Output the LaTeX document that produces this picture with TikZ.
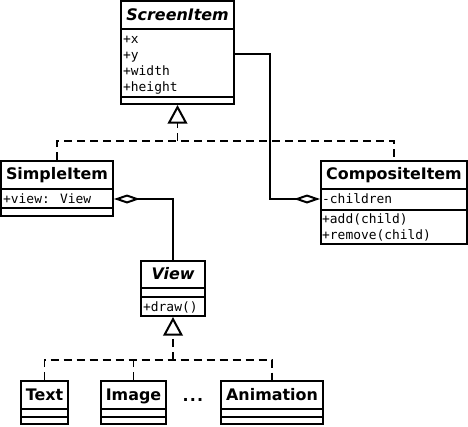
\documentclass[tikz,border=0pt]{standalone}
\usepackage{fontspec}
\setmainfont{DejaVu Sans}[BoldFont=DejaVu Sans Bold, ItalicFont=DejaVu Sans Oblique, BoldItalicFont=DejaVu Sans Bold Oblique]
\newfontfamily\umlmono{DejaVu Sans Mono}
\usetikzlibrary{arrows.meta}
\tikzset{
  umlbox/.style={draw, line width=2pt, inner sep=0pt, rectangle},
  divider/.style={line width=2pt},
  titletext/.style={anchor=base, inner sep=0pt, font=\bfseries\fontsize{15.9}{18}\selectfont},
  abstracttext/.style={titletext, font=\bfseries\itshape\fontsize{15.9}{18}\selectfont},
  attr/.style={anchor=base west, inner sep=0pt, font=\umlmono\fontsize{12.9}{15}\selectfont},
  conn/.style={line width=1.7pt},
  realize/.style={conn, dash pattern=on 8pt off 5pt},
  gentip/.style={realize, -{Triangle[open, length=18.5pt, width=19.5pt, line width=2pt]}},
  aggtip/.style={conn, -{Diamond[open, length=26pt, width=9pt, line width=2pt]}},
}
\begin{document}
\begin{tikzpicture}[x=1pt, y=-1pt]
\useasboundingbox (0,0) rectangle (468,426);
% ScreenItem
\node[umlbox, minimum width=113, minimum height=103] (ScreenItem) at (177.5,52.5) {};
\draw[divider] (121,29) -- (234,29);
\draw[divider] (121,97) -- (234,97);
\node[abstracttext] (tScreen) at (177.5,20) {ScreenItem};
\node[attr] (sx) at (123,43) {+x};
\node[attr] (sy) at (123,59) {+y};
\node[attr] (sw) at (123,75) {+width};
\node[attr] (sh) at (123,91) {+height};
% SimpleItem
\node[umlbox, minimum width=112, minimum height=55] (SimpleItem) at (57,188.5) {};
\draw[divider] (1,189) -- (113,189);
\draw[divider] (1,208) -- (113,208);
\node[titletext] (tSimple) at (57,179.5) {SimpleItem};
\node[attr] (sview) at (3,203) {+view: View};
% CompositeItem
\node[umlbox, minimum width=146, minimum height=83] (CompositeItem) at (394,202.5) {};
\draw[divider] (321,189) -- (467,189);
\draw[divider] (321,210) -- (467,210);
\node[titletext] (tComposite) at (394,179.5) {CompositeItem};
\node[attr] (cch) at (322,203) {-children};
\node[attr] (cadd) at (322,223.5) {+add(child)};
\node[attr] (crem) at (322,239) {+remove(child)};
% View
\node[umlbox, minimum width=64, minimum height=55] (View) at (173,288.5) {};
\draw[divider] (141,288) -- (205,288);
\draw[divider] (141,297) -- (205,297);
\node[abstracttext] (tView) at (173,279) {View};
\node[attr] (vdraw) at (143,311.5) {+draw()};
% Text
\node[umlbox, minimum width=47, minimum height=43] (Text) at (44.5,402.5) {};
\draw[divider] (21,409) -- (68,409);
\draw[divider] (21,417) -- (68,417);
\node[titletext] (tText) at (44.5,400) {Text};
% Image
\node[umlbox, minimum width=65, minimum height=43] (Image) at (133.5,402.5) {};
\draw[divider] (101,409) -- (166,409);
\draw[divider] (101,417) -- (166,417);
\node[titletext] (tImage) at (133.5,400) {Image};
% Animation
\node[umlbox, minimum width=102, minimum height=43] (Animation) at (272,402.5) {};
\draw[divider] (221,409) -- (323,409);
\draw[divider] (221,417) -- (323,417);
\node[titletext] (tAnim) at (272,400) {Animation};
\node[titletext] (dots) at (193,401) {.\kern1.2pt.\kern1.2pt.};
% hubs and routing points
\coordinate (hubA) at (177.5,141);
\coordinate (hubB) at (173,360);
\coordinate (yrow) at (0,54);
\coordinate (turn) at (270,199);
\coordinate (viewrow) at (0,199);
% generalisations
\draw[realize] (SimpleItem.north) |- (hubA) -| (CompositeItem.north);
\draw[gentip] (hubA) -- (ScreenItem.south);
\draw[realize] (Text.north) |- (hubB) -| (Animation.north);
\draw[realize] (Image.north) -- (Image.north |- hubB);
\draw[gentip] (hubB) -- (View.south);
% aggregations
\draw[aggtip] (View.north) |- (SimpleItem.east |- viewrow);
\draw[aggtip] (ScreenItem.east |- yrow) -| (turn) -- (CompositeItem.west |- turn);
\end{tikzpicture}
\end{document}
